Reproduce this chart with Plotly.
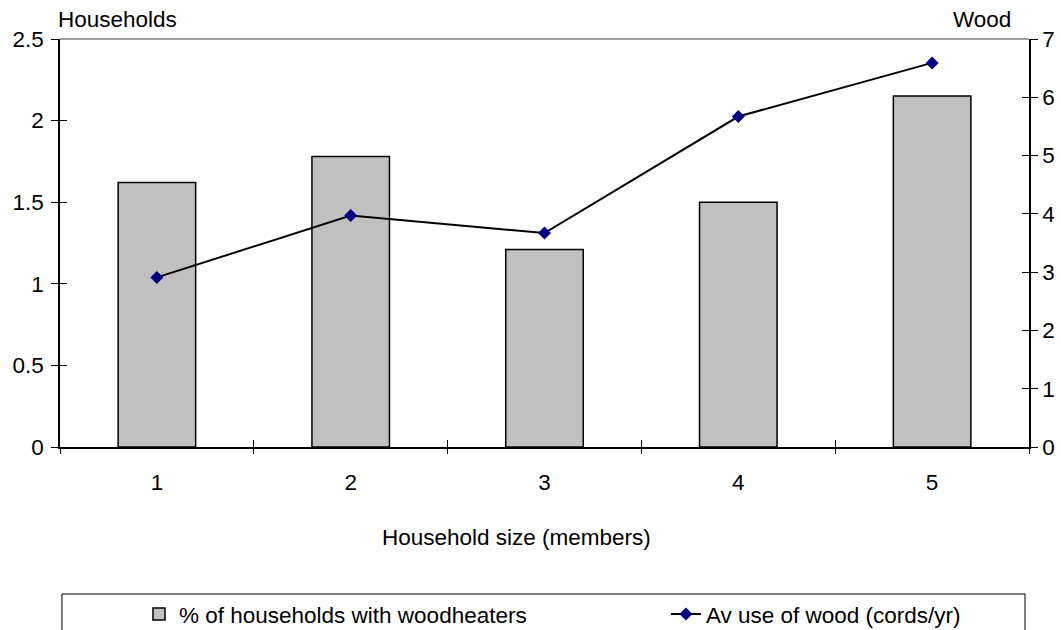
import plotly.graph_objects as go

sizes = [1, 2, 3, 4, 5]
size_labels = ["1", "2", "3", "4", "5"]
pct_woodheaters = [1.62, 1.78, 1.21, 1.50, 2.15]
wood_use = [2.91, 3.97, 3.67, 5.67, 6.59]
boundaries = [0.5, 1.5, 2.5, 3.5, 4.5, 5.5]
left_ticks = [0, 0.5, 1, 1.5, 2, 2.5]
right_ticks = [0, 1, 2, 3, 4, 5, 6, 7]

FONT = "Liberation Sans, Arial, sans-serif"
FS = 22.5

fig = go.Figure()
fig.add_trace(go.Bar(
    x=sizes, y=pct_woodheaters, width=0.4,
    name="% of households with woodheaters",
    marker=dict(color="#c0c0c0", line=dict(color="black", width=1.5)),
    xaxis="x", yaxis="y", legend="legend",
))
fig.add_trace(go.Scatter(
    x=sizes, y=wood_use, mode="lines+markers",
    name="Av use of wood (cords/yr)",
    line=dict(color="black", width=2),
    marker=dict(symbol="diamond", size=10, color="#000080"),
    xaxis="x", yaxis="y2", legend="legend2",
))
# invisible helper traces so the overlay tick-only axes get drawn
fig.add_trace(go.Scatter(
    x=sizes, y=pct_woodheaters, mode="markers", marker=dict(opacity=0),
    showlegend=False, hoverinfo="skip", xaxis="x2", yaxis="y3",
))
fig.add_trace(go.Scatter(
    x=sizes, y=wood_use, mode="markers", marker=dict(opacity=0),
    showlegend=False, hoverinfo="skip", xaxis="x3", yaxis="y4",
))

fig.update_layout(
    width=1061, height=630,
    margin=dict(l=60, r=32, t=39, b=183, autoexpand=False),
    plot_bgcolor="white", paper_bgcolor="white",
    font=dict(family=FONT, size=FS, color="black"),
    xaxis=dict(range=[0.5, 5.5], tickvals=sizes, ticktext=size_labels,
               ticks="", ticklabelstandoff=14, showgrid=False, zeroline=False,
               showline=True, linecolor="black", linewidth=1.5,
               tickfont=dict(size=FS)),
    xaxis2=dict(range=[0.5, 5.5], overlaying="x", anchor="y", side="bottom",
                tickvals=boundaries, ticks="outside", ticklen=6, tickcolor="black",
                showticklabels=False, showgrid=False, zeroline=False, showline=False),
    xaxis3=dict(range=[0.5, 5.5], overlaying="x", anchor="y", side="bottom",
                tickvals=boundaries, ticks="inside", ticklen=7, tickcolor="black",
                showticklabels=False, showgrid=False, zeroline=False, showline=False),
    yaxis=dict(range=[0, 2.5], tickvals=left_ticks, ticks="outside", ticklen=7,
               tickcolor="black", showgrid=False, zeroline=False,
               showline=True, linecolor="black", linewidth=1.5,
               ticklabelstandoff=3, tickfont=dict(size=FS)),
    yaxis2=dict(range=[0, 7], tickvals=right_ticks, overlaying="y", side="right",
                anchor="x", ticks="outside", ticklen=7, tickcolor="black",
                showgrid=False, zeroline=False, showline=True, linecolor="black",
                linewidth=1.5, tickfont=dict(size=FS)),
    yaxis3=dict(range=[0, 2.5], tickvals=left_ticks, overlaying="y", side="left",
                anchor="x", ticks="inside", ticklen=7, tickcolor="black",
                showticklabels=False, showgrid=False, zeroline=False, showline=False),
    yaxis4=dict(range=[0, 7], tickvals=right_ticks, overlaying="y", side="right",
                anchor="x", ticks="inside", ticklen=7, tickcolor="black",
                showticklabels=False, showgrid=False, zeroline=False, showline=False),
    showlegend=True,
    legend=dict(orientation="h", x=0.0815, xanchor="left", y=-0.41, yanchor="middle",
                font=dict(size=FS), bgcolor="rgba(0,0,0,0)", borderwidth=0),
    legend2=dict(orientation="h", x=0.6253, xanchor="left", y=-0.41, yanchor="middle",
                 font=dict(size=FS), bgcolor="rgba(0,0,0,0)", borderwidth=0),
    shapes=[
        dict(type="line", xref="paper", yref="paper", x0=0, x1=1, y0=1, y1=1,
             line=dict(color="#808080", width=1.5)),
        dict(type="rect", xref="paper", yref="paper", x0=0.002, x1=0.9959,
             y0=-0.3603, y1=-0.48, line=dict(color="black", width=1)),
    ],
    annotations=[
        dict(text="Households", xref="paper", yref="paper", x=-0.004, y=1.0466,
             xanchor="left", yanchor="middle", showarrow=False, font=dict(size=FS)),
        dict(text="Wood", xref="paper", yref="paper", x=0.983, y=1.0466,
             xanchor="right", yanchor="middle", showarrow=False, font=dict(size=FS)),
        dict(text="Household size (members)", xref="paper", yref="paper",
             x=0.4706, y=-0.2206, xanchor="center", yanchor="middle",
             showarrow=False, font=dict(size=FS)),
    ],
)

fig.write_html("out.html")
